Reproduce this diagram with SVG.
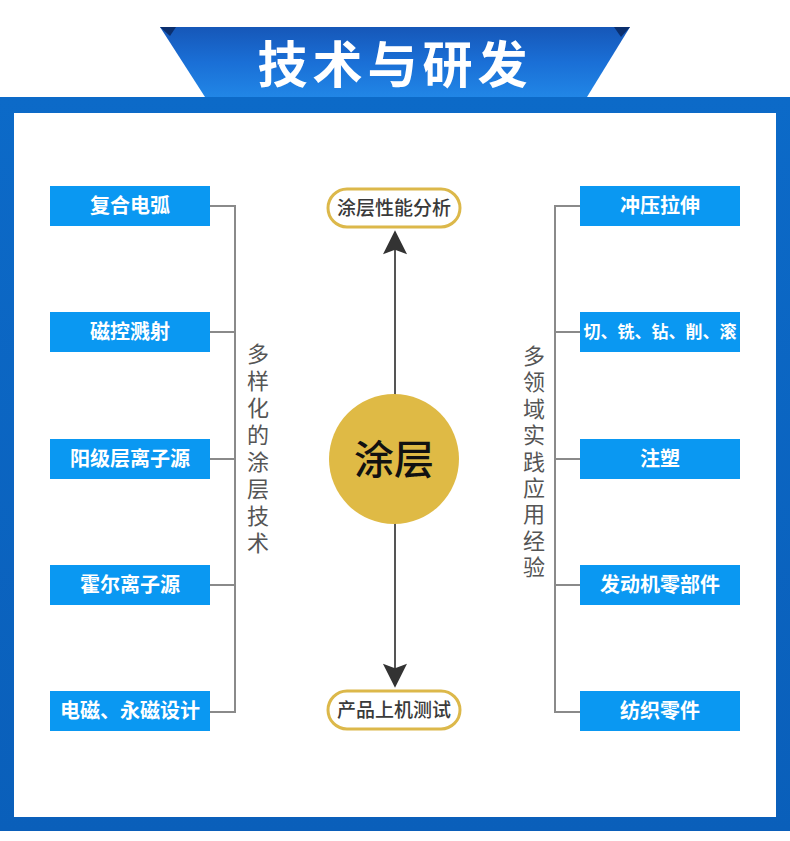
<svg xmlns="http://www.w3.org/2000/svg" width="790" height="841" viewBox="0 0 790 841">
<defs>
<linearGradient id="ban" x1="0" y1="0" x2="0" y2="1">
<stop offset="0" stop-color="#1657b8"/>
<stop offset="0.5" stop-color="#1a6fd6"/>
<stop offset="1" stop-color="#2186e6"/>
</linearGradient>
<linearGradient id="frame" x1="0" y1="0" x2="0" y2="1">
<stop offset="0" stop-color="#0c6ac8"/>
<stop offset="1" stop-color="#0a5fba"/>
</linearGradient>
<marker id="arr" viewBox="0 0 26 28" refX="24" refY="13" markerWidth="26" markerHeight="26" markerUnits="userSpaceOnUse" orient="auto">
<path d="M0,0 L26,13 L0,26 L5,13 Z" fill="#333"/>
</marker>
<style>
.box{fill:#0a98f2}
.bt{font-family:"Noto Sans CJK SC","Noto Sans",sans-serif;font-size:20px;font-weight:700;fill:#fff;text-anchor:middle}
.br{fill:none;stroke:#8a8a8a;stroke-width:2}
.vt{font-family:"Noto Sans CJK SC","Noto Sans",sans-serif;font-size:22px;fill:#555;text-anchor:middle}
.pill{fill:#fff;stroke:#dcb84a;stroke-width:3}
.pt{font-family:"Noto Sans CJK SC","Noto Sans",sans-serif;font-size:19px;font-weight:500;fill:#3a3a3a;text-anchor:middle}
.ax{stroke:#555;stroke-width:2;fill:none}
</style>
</defs>
<rect x="0" y="0" width="790" height="841" fill="#fff"/>
<rect x="0" y="97" width="790" height="734" fill="url(#frame)"/>
<rect x="14" y="113" width="762" height="704" fill="#fff"/>
<g id="banner">
<polygon points="160,27 630,27 587,97 205,97" fill="url(#ban)"/>
<polygon points="160,27 176,27 170,36" fill="#0b2f6e"/>
<polygon points="630,27 614,27 621,37" fill="#0b2f6e"/>
<text x="395" y="83" font-family="Noto Sans CJK SC, sans-serif" font-size="50" font-weight="700" fill="#fff" text-anchor="middle" letter-spacing="5">技术与研发</text>
</g>
<g id="connectors">
<path class="br" d="M210,206 H235 V712 H210 M210,332 H235 M210,459 H235 M210,585 H235"/>
<path class="br" d="M580,206 H555 V712 H580 M580,332 H555 M580,459 H555 M580,585 H555"/>
<line class="ax" x1="395" y1="395" x2="395" y2="232" marker-end="url(#arr)"/>
<line class="ax" x1="395" y1="523" x2="395" y2="686" marker-end="url(#arr)"/>
</g>
<g id="left1"><rect class="box" x="50" y="186" width="160" height="40"/><text class="bt" x="130" y="213">复合电弧</text></g>
<g id="left2"><rect class="box" x="50" y="312" width="160" height="40"/><text class="bt" x="130" y="339">磁控溅射</text></g>
<g id="left3"><rect class="box" x="50" y="439" width="160" height="40"/><text class="bt" x="130" y="466">阳级层离子源</text></g>
<g id="left4"><rect class="box" x="50" y="565" width="160" height="40"/><text class="bt" x="130" y="592">霍尔离子源</text></g>
<g id="left5"><rect class="box" x="50" y="691" width="160" height="40"/><text class="bt" x="130" y="718">电磁、永磁设计</text></g>
<g id="right1"><rect class="box" x="580" y="186" width="160" height="40"/><text class="bt" x="660" y="213">冲压拉伸</text></g>
<g id="right2"><rect class="box" x="580" y="312" width="160" height="40"/><text class="bt" x="660" y="338" style="font-size:17px">切、铣、钻、削、滚</text></g>
<g id="right3"><rect class="box" x="580" y="439" width="160" height="40"/><text class="bt" x="660" y="466">注塑</text></g>
<g id="right4"><rect class="box" x="580" y="565" width="160" height="40"/><text class="bt" x="660" y="592">发动机零部件</text></g>
<g id="right5"><rect class="box" x="580" y="691" width="160" height="40"/><text class="bt" x="660" y="718">纺织零件</text></g>
<g id="leftlabel"><text class="vt" x="258" y="362"><tspan x="258">多</tspan><tspan x="258" dy="27">样</tspan><tspan x="258" dy="27">化</tspan><tspan x="258" dy="27">的</tspan><tspan x="258" dy="27">涂</tspan><tspan x="258" dy="27">层</tspan><tspan x="258" dy="27">技</tspan><tspan x="258" dy="27">术</tspan></text></g>
<g id="rightlabel"><text class="vt" x="534" y="364"><tspan x="534">多</tspan><tspan x="534" dy="26.4">领</tspan><tspan x="534" dy="26.4">域</tspan><tspan x="534" dy="26.4">实</tspan><tspan x="534" dy="26.4">践</tspan><tspan x="534" dy="26.4">应</tspan><tspan x="534" dy="26.4">用</tspan><tspan x="534" dy="26.4">经</tspan><tspan x="534" dy="26.4">验</tspan></text></g>
<g id="top"><rect class="pill" x="328" y="189" width="132" height="38" rx="19"/><text class="pt" x="394" y="215">涂层性能分析</text></g>
<g id="bottom"><rect class="pill" x="328" y="691" width="132" height="38" rx="19"/><text class="pt" x="394" y="717">产品上机测试</text></g>
<g id="center"><circle cx="394" cy="459" r="65" fill="#dfba45"/><text x="394" y="474" font-family="Noto Sans CJK SC, sans-serif" font-size="40" font-weight="500" fill="#111" text-anchor="middle">涂层</text></g>
</svg>
